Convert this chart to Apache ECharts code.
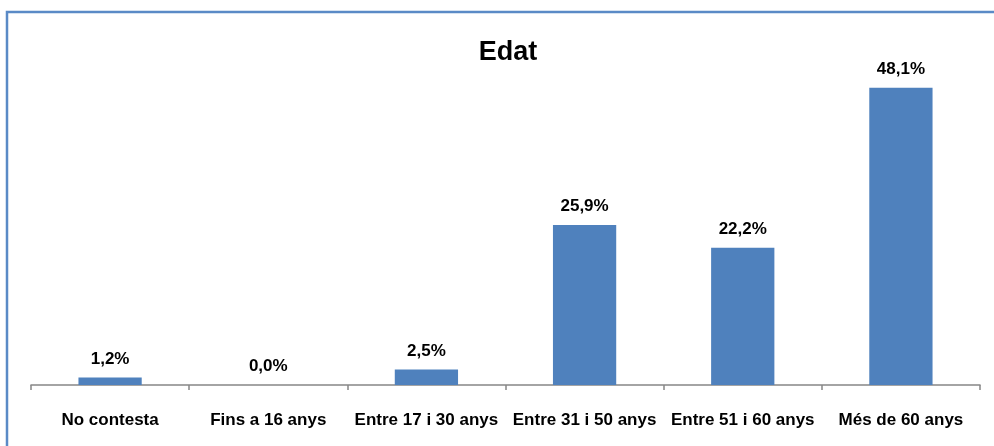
<!DOCTYPE html>
<html>
<head>
<meta charset="utf-8">
<script src="https://cdn.jsdelivr.net/npm/echarts@6/dist/echarts.min.js"></script>
<style>
html,body{margin:0;padding:0;background:#fff;}
#c{width:994px;height:446px;}
</style>
</head>
<body>
<div id="c"></div>
<script>
var titleText = 'Edat';
var categories = ['No contesta', 'Fins a 16 anys', 'Entre 17 i 30 anys', 'Entre 31 i 50 anys', 'Entre 51 i 60 anys', 'Més de 60 anys'];
var values = [1.2, 0.0, 2.5, 25.9, 22.2, 48.1];

var chart = echarts.init(document.getElementById('c'), null, {renderer: 'canvas'});
var font = '"Liberation Sans", Arial, sans-serif';
chart.setOption({
  animation: false,
  backgroundColor: '#ffffff',
  graphic: [{
    type: 'rect',
    shape: {x: 7, y: 12, width: 1100, height: 600},
    style: {fill: 'none', stroke: '#5A8AC6', lineWidth: 2.5},
    silent: true
  }, {
    type: 'text',
    x: 508,
    y: 53,
    style: {text: titleText, align: 'center', verticalAlign: 'middle',
            font: 'bold 27px ' + font, fill: '#000'},
    silent: true
  }],
  grid: {left: 31, right: 14, top: 76, bottom: 61},
  xAxis: {
    type: 'category',
    data: categories,
    boundaryGap: true,
    axisLine: {show: true, lineStyle: {color: '#868686', width: 1.5}},
    axisTick: {show: true, alignWithLabel: false, length: 5, lineStyle: {color: '#868686', width: 1.5}},
    axisLabel: {interval: 0, margin: 27, fontFamily: font, fontWeight: 'bold', fontSize: 17, color: '#000'}
  },
  yAxis: {
    type: 'value',
    min: 0,
    max: 50,
    show: false,
    splitLine: {show: false}
  },
  series: [{
    type: 'bar',
    data: values,
    barWidth: '40%',
    itemStyle: {color: '#4F81BD'},
    label: {
      show: true,
      position: 'top',
      distance: 10,
      fontFamily: font,
      fontWeight: 'bold',
      fontSize: 17,
      color: '#000',
      formatter: function (p) { return p.value.toFixed(1).replace('.', ',') + '%'; }
    }
  }]
});
</script>
</body>
</html>
